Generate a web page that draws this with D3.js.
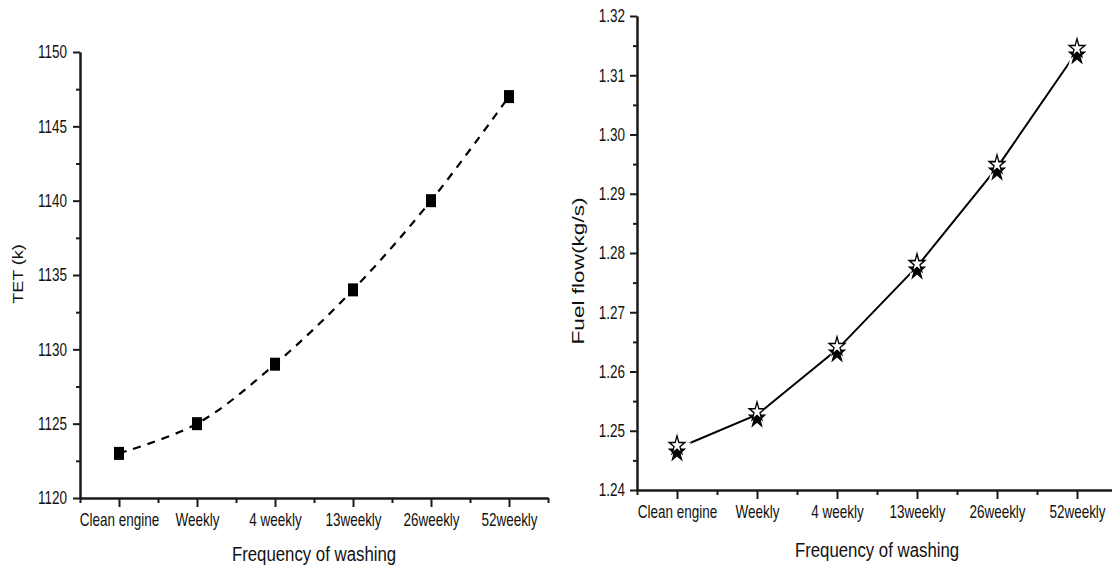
<!DOCTYPE html>
<html>
<head>
<meta charset="utf-8">
<script src="https://cdn.jsdelivr.net/npm/d3@7"></script>
<style>
  body { margin: 0; background: #fff; }
  svg { display: block; }
  text { font-family: "Liberation Sans", Arial, sans-serif; fill: #111; }
</style>
</head>
<body>
<svg id="chart" width="1112" height="569"></svg>
<script>
// data
const categories = ['Clean engine', 'Weekly', '4 weekly', '13weekly', '26weekly', '52weekly'];
const tetValues = [1123, 1125, 1129, 1134, 1140, 1147];
const fuelFlowValues = [1.2470, 1.2527, 1.2637, 1.2777, 1.2944, 1.3140];
const tetTicks = [1120, 1125, 1130, 1135, 1140, 1145, 1150];
const fuelTicks = [1.24, 1.25, 1.26, 1.27, 1.28, 1.29, 1.30, 1.31, 1.32];
const xTitle = 'Frequency of washing';

const svg = d3.select('#chart');
const ink = '#1a1a1a';
const tickFont = 18, squeeze = 0.75;

// text in the source is tall and narrow, so squash it sideways
function narrow(sel, sx) {
  sel.selectAll('text').each(function() {
    const t = d3.select(this);
    const x = +t.attr('x') || 0;
    t.attr('x', x / sx).attr('transform', `scale(${sx},1)`);
  });
}

function styleAxis(g) {
  g.attr('font-size', null).attr('font-family', null);
  g.selectAll('.domain, .tick line').attr('stroke', ink).attr('stroke-width', 2);
  g.selectAll('text').attr('font-size', tickFont + 'px').attr('fill', '#111');
}

function panel(opt) {
  const x = d3.scaleLinear().domain([-0.5, 5.5]).range(opt.xRange);
  const y = d3.scaleLinear().domain(opt.yDomain).range(opt.yRange);
  const g = svg.append('g');

  // minor ticks first
  const yMinor = d3.range(opt.yTicks.length - 1).map(i => (opt.yTicks[i] + opt.yTicks[i + 1]) / 2);
  g.append('g').attr('transform', `translate(${opt.xRange[0]},0)`)
    .call(d3.axisLeft(y).tickValues(yMinor).tickSize(4).tickSizeOuter(0).tickFormat(''))
    .call(styleAxis);
  g.append('g').attr('transform', `translate(0,${opt.yRange[0]})`)
    .call(d3.axisBottom(x).tickValues(d3.range(-0.5, 6, 1)).tickSize(5).tickSizeOuter(0).tickFormat(''))
    .call(styleAxis);

  const ya = g.append('g').attr('transform', `translate(${opt.xRange[0]},0)`)
    .call(d3.axisLeft(y).tickValues(opt.yTicks).tickSize(7).tickPadding(opt.yPad).tickSizeOuter(0).tickFormat(opt.fmt))
    .call(styleAxis);
  narrow(ya, squeeze);

  const xa = g.append('g').attr('transform', `translate(0,${opt.yRange[0]})`)
    .call(d3.axisBottom(x).tickValues(d3.range(categories.length)).tickSize(9).tickPadding(6).tickSizeOuter(0).tickFormat(i => categories[i]))
    .call(styleAxis);
  narrow(xa, squeeze);

  // axis titles
  const xc = (opt.xRange[0] + opt.xRange[1]) / 2;
  g.append('text')
    .attr('text-anchor', 'middle')
    .attr('font-size', '21px')
    .attr('transform', `translate(${xc},${opt.xTitleY}) scale(0.8,1)`)
    .text(xTitle);
  g.append('text')
    .attr('text-anchor', 'middle')
    .attr('dy', '0.35em')
    .attr('font-size', opt.yTitleSize + 'px')
    .attr('transform', `translate(${opt.yTitleX},${opt.yTitleY}) rotate(-90) scale(${opt.yTitleStretch},1)`)
    .text(opt.yTitle);

  return { g, x, y };
}

// left: TET
const left = panel({
  xRange: [80, 548], yDomain: [1120, 1150], yRange: [498, 52],
  yTicks: tetTicks, fmt: d3.format('d'), yPad: 6,
  xTitleY: 561, yTitle: 'TET (k)', yTitleX: 18, yTitleY: 274, yTitleSize: 15, yTitleStretch: 1.2
});

left.g.append('path')
  .datum(tetValues)
  .attr('fill', 'none')
  .attr('stroke', '#000')
  .attr('stroke-width', 2.2)
  .attr('stroke-dasharray', '8,7')
  .attr('d', d3.line().x((d, i) => left.x(i)).y(d => left.y(d)).curve(d3.curveCatmullRom));

left.g.selectAll('rect.pt')
  .data(tetValues)
  .join('rect')
  .attr('class', 'pt')
  .attr('x', (d, i) => left.x(i) - 5)
  .attr('y', d => left.y(d) - 6.5)
  .attr('width', 10)
  .attr('height', 13)
  .attr('fill', '#000');

// right: fuel flow
const right = panel({
  xRange: [637, 1117], yDomain: [1.24, 1.32], yRange: [490, 16],
  yTicks: fuelTicks, fmt: d3.format('.2f'), yPad: 5,
  xTitleY: 557, yTitle: 'Fuel flow(kg/s)', yTitleX: 578, yTitleY: 271, yTitleSize: 17, yTitleStretch: 1.33
});

right.g.append('path')
  .datum(fuelFlowValues)
  .attr('fill', 'none')
  .attr('stroke', '#000')
  .attr('stroke-width', 2)
  .attr('d', d3.line().x((d, i) => right.x(i)).y(d => right.y(d)));

const star = d3.symbol().type(d3.symbolStar).size(75)();
const pts = right.g.selectAll('g.pt')
  .data(fuelFlowValues)
  .join('g')
  .attr('class', 'pt')
  .attr('transform', (d, i) => `translate(${right.x(i)},${right.y(d)})`);
// white halo leaves a small gap between line and marker
pts.append('path').attr('d', star).attr('transform', 'scale(1.05,1.35)')
  .attr('fill', '#fff').attr('stroke', '#fff').attr('stroke-width', 4);
pts.append('path').attr('d', star).attr('transform', 'translate(0,3.5) scale(1,1.2)')
  .attr('fill', '#000').attr('stroke', '#000').attr('stroke-width', 1);
pts.append('path').attr('d', star).attr('transform', 'translate(0,-3) scale(1,1.2)')
  .attr('fill', '#fff').attr('stroke', '#000').attr('stroke-width', 1.3);
</script>
</body>
</html>
